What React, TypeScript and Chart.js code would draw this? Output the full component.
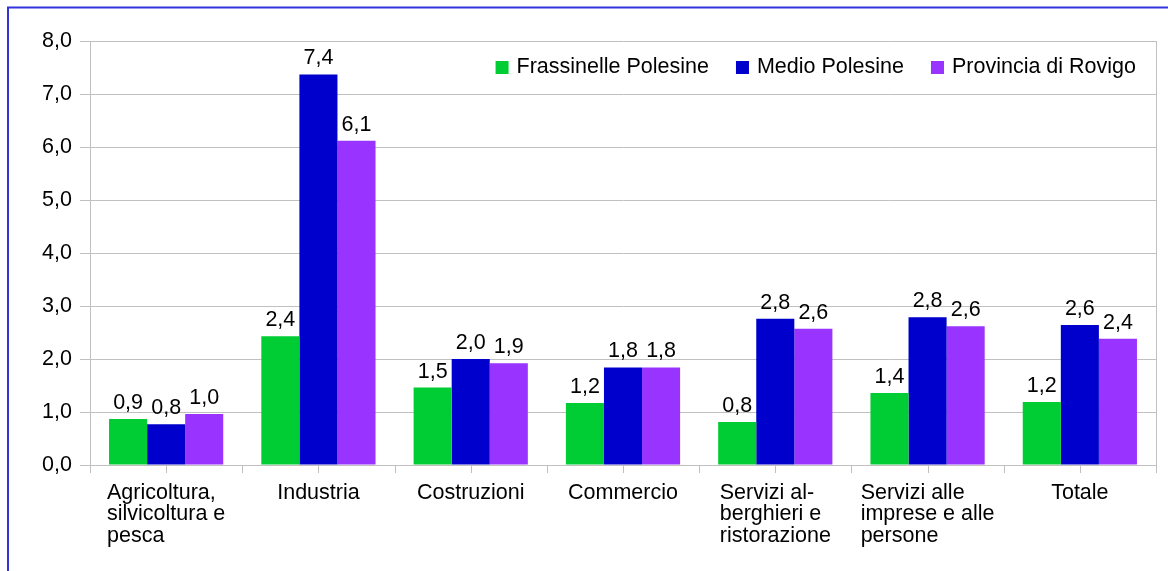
import React, { useEffect, useRef } from "react";
import { Chart, registerables } from "chart.js";

Chart.register(...registerables);

const categories: string[][] = [
  ["Agricoltura,", "silvicoltura e", "pesca"],
  ["Industria"],
  ["Costruzioni"],
  ["Commercio"],
  ["Servizi al-", "berghieri e", "ristorazione"],
  ["Servizi alle", "imprese e alle", "persone"],
  ["Totale"],
];
const seriesNames = ["Frassinelle Polesine", "Medio Polesine", "Provincia di Rovigo"];
const frassinelle = [0.87, 2.43, 1.46, 1.17, 0.81, 1.36, 1.19];
const medio = [0.77, 7.37, 2.0, 1.84, 2.76, 2.79, 2.64];
const provincia = [0.96, 6.12, 1.92, 1.84, 2.57, 2.62, 2.38];
const colors = ["#00cc33", "#0000cc", "#9933ff"];
const yTicks = [0, 1, 2, 3, 4, 5, 6, 7, 8];

const FONT = '"Liberation Sans", Arial, sans-serif';
const FS = 21.5;

const fmt = (v: number) => v.toFixed(1).replace(".", ",");

const customPlugin = {
  id: "custom",
  afterDatasetsDraw(chart: any) {
    const ctx = chart.ctx;
    const area = chart.chartArea;
    ctx.save();
    // data labels
    ctx.font = `${FS}px ${FONT}`;
    ctx.fillStyle = "#000";
    ctx.textAlign = "center";
    ctx.textBaseline = "alphabetic";
    chart.data.datasets.forEach((ds: any, di: number) => {
      const meta = chart.getDatasetMeta(di);
      meta.data.forEach((bar: any, i: number) => {
        ctx.fillText(fmt(ds.data[i]), bar.x, bar.y - 10);
      });
    });
    // right border
    ctx.strokeStyle = "#c0c0c0";
    ctx.lineWidth = 1;
    ctx.beginPath();
    const rx = Math.round(area.right) + 0.5;
    ctx.moveTo(rx, area.top);
    ctx.lineTo(rx, area.bottom + 8);
    ctx.stroke();
    // x ticks
    const n = categories.length * 2;
    const w = (area.right - area.left) / n;
    ctx.beginPath();
    for (let i = 0; i <= n; i++) {
      const x = Math.round(area.left + i * w) + 0.5;
      ctx.moveTo(x, area.bottom);
      ctx.lineTo(x, area.bottom + 8);
    }
    ctx.stroke();
    // x labels, left-aligned blocks centered on category
    const xScale = chart.scales.x;
    ctx.fillStyle = "#000";
    ctx.textAlign = "left";
    ctx.textBaseline = "middle";
    categories.forEach((lines, i) => {
      const cx = xScale.getPixelForValue(i);
      const bw = Math.max(...lines.map((l) => ctx.measureText(l).width));
      const x0 = cx - bw / 2;
      lines.forEach((l, j) => {
        ctx.fillText(l, x0, area.bottom + 28 + j * 21.5);
      });
    });
    // legend (right aligned inside plot)
    const ly = 67.5;
    const sq = 13;
    let xEnd = area.right - 20;
    const items = seriesNames.map((s, i) => ({ s, c: colors[i], w: ctx.measureText(s).width }));
    const positions: number[] = [];
    for (let i = items.length - 1; i >= 0; i--) {
      const tx = xEnd - items[i].w;
      positions[i] = tx;
      xEnd = tx - 8 - sq - 27;
    }
    items.forEach((it, i) => {
      const tx = positions[i];
      ctx.fillStyle = it.c;
      ctx.fillRect(tx - 8 - sq, ly - sq / 2, sq, sq);
      ctx.fillStyle = "#000";
      ctx.fillText(it.s, tx, ly);
    });
    // outer frame
    ctx.strokeStyle = "#3333dd";
    ctx.lineWidth = 2;
    ctx.beginPath();
    ctx.moveTo(8, chart.height);
    ctx.lineTo(8, 7.5);
    ctx.lineTo(chart.width, 7.5);
    ctx.stroke();
    ctx.restore();
  },
};

export default function App() {
  const ref = useRef<HTMLCanvasElement | null>(null);
  useEffect(() => {
    if (!ref.current) return;
    const chart = new Chart(ref.current, {
      type: "bar",
      data: {
        labels: categories.map((c) => c.join(" ")),
        datasets: [frassinelle, medio, provincia].map((d, i) => ({
          label: seriesNames[i],
          data: d,
          backgroundColor: colors[i],
          borderWidth: 0,
          categoryPercentage: 0.75,
          barPercentage: 1.0,
        })),
      },
      options: {
        animation: false,
        responsive: false,
        maintainAspectRatio: false,
        layout: { padding: { top: 41, right: 12, left: 0, bottom: 0 } },
        plugins: { legend: { display: false }, tooltip: { enabled: false } },
        scales: {
          x: {
            grid: { display: false },
            border: { display: true, color: "#c0c0c0" },
            ticks: { display: false },
            afterFit: (s: any) => {
              s.height = 106;
            },
          },
          y: {
            min: 0,
            max: 8,
            afterBuildTicks: (s: any) => {
              s.ticks = yTicks.map((v) => ({ value: v }));
            },
            grid: { color: "#c0c0c0", tickLength: 10, drawTicks: true },
            border: { display: true, color: "#c0c0c0" },
            ticks: {
              padding: 8,
              color: "#000",
              font: { family: FONT, size: FS },
              callback: (v: any) => fmt(Number(v)),
            },
            afterFit: (s: any) => {
              s.width = 90;
            },
          },
        },
      },
      plugins: [customPlugin],
    });
    return () => chart.destroy();
  }, []);
  return (
    <div style={{ position: "fixed", left: 0, top: 0, width: 1168, height: 571, background: "#fff" }}>
      <canvas ref={ref} width={1168} height={571} style={{ display: "block" }} />
    </div>
  );
}
